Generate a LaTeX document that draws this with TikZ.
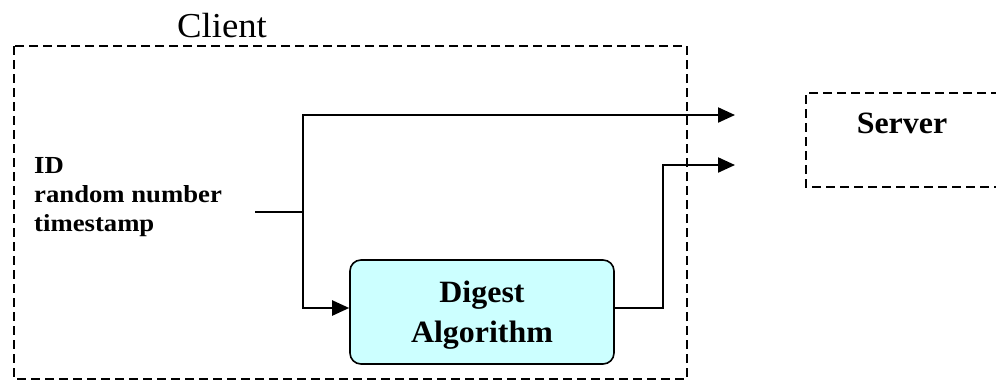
\documentclass[tikz,border=0pt]{standalone}
\usepackage{fontspec}
\setmainfont{Liberation Serif}
\usetikzlibrary{arrows.meta}
\definecolor{digestfill}{RGB}{204,255,255}
% slightly widened lettering
\newcommand{\widetext}[2]{\scalebox{#1}[1]{#2}}
\begin{document}
\begin{tikzpicture}[x=1pt,y=-1pt,
  boundary/.style={line width=2.4pt, dash pattern=on 9pt off 5pt},
  wire/.style={line width=2.2pt},
  flow/.style={wire, -{Triangle[length=17pt,width=15pt]}},
  proc/.style={draw, line width=1.6pt, rounded corners=11pt, fill=digestfill,
    minimum width=264pt, minimum height=104pt, inner sep=0pt},
  bigbold/.style={anchor=base, inner sep=0pt, font=\fontsize{31}{31}\selectfont\bfseries},
  lbl/.style={anchor=base west, inner sep=0pt, font=\fontsize{24.5}{25}\selectfont\bfseries}]
  \useasboundingbox (0,0) rectangle (996,381);

  % client boundary and caption
  \draw[boundary] (14,46) rectangle (687,379);
  \node[anchor=base, inner sep=0pt, font=\fontsize{35}{35}\selectfont] (client) at (222,37) {\widetext{1.05}{Client}};

  % server boundary, running off the right edge
  \begin{scope}
    \clip (0,0) rectangle (996,381);
    \draw[boundary] (1000,93) -- (806,93) -- (806,187) -- (1000,187);
  \end{scope}
  \node[bigbold] (server) at (902,133) {\widetext{1.03}{Server}};

  % input fields
  \node[lbl] (id) at (34,173) {\widetext{1.09}{ID}};
  \node[lbl] (rnd) at (34,202) {\widetext{1.09}{random number}};
  \node[lbl] (ts) at (34,231) {\widetext{1.09}{timestamp}};

  % digest block
  \node[proc] (digest) at (482,312) {};
  \node[bigbold] (dg1) at (482,302) {\widetext{1.03}{Digest}};
  \node[bigbold] (dg2) at (482,342) {\widetext{1.03}{Algorithm}};

  % wiring
  \coordinate (in) at (255,212);
  \coordinate (split) at (303,212);
  \coordinate (out1) at (735,115);
  \coordinate (out2) at (735,165);
  \draw[wire] (in) -- (split);
  \draw[flow] (split) |- (out1);
  \draw[flow] (split) |- (digest.west |- 0,308);
  \draw[flow] (digest.east |- 0,308) -- (663,308) |- (out2);
\end{tikzpicture}
\end{document}
